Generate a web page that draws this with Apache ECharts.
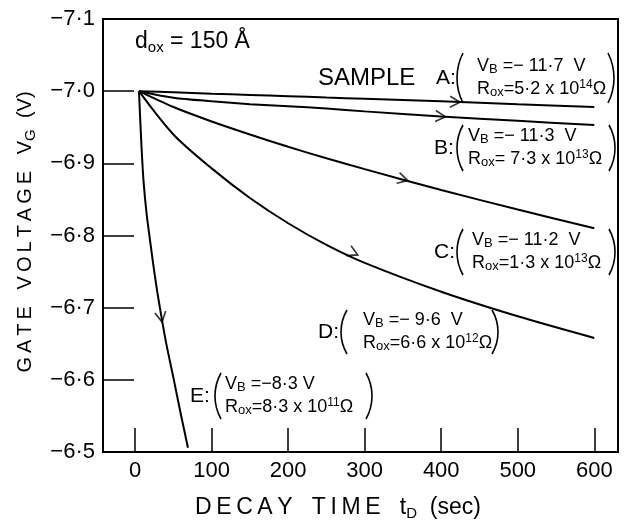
<!DOCTYPE html>
<html>
<head>
<meta charset="utf-8">
<script src="https://cdn.jsdelivr.net/npm/echarts@6/dist/echarts.min.js"></script>
<style>
html, body { margin: 0; padding: 0; background: #fff; }
#chart { width: 626px; height: 523px; }
</style>
</head>
<body>
<div id="chart"></div>
<script>
// decay time (sec) and gate voltage (V)
const timeAD = [5, 50, 100, 150, 200, 250, 300, 400, 500, 600]
const voltA = [-7.0, -6.9985, -6.9965, -6.9948, -6.993, -6.9912, -6.9895, -6.986, -6.982, -6.978]
const voltB = [-7.0, -6.991, -6.986, -6.982, -6.979, -6.976, -6.972, -6.965, -6.959, -6.953]
const voltC = [-7.0, -6.978, -6.958, -6.940, -6.923, -6.907, -6.892, -6.863, -6.836, -6.810]
const voltD = [-7.0, -6.94, -6.893, -6.852, -6.817, -6.787, -6.762, -6.722, -6.688, -6.658]
const timeE = [5, 8, 11, 15, 20, 25, 30, 40, 50, 60, 69]
const voltE = [-7.0, -6.93, -6.875, -6.83, -6.789, -6.75, -6.715, -6.654, -6.603, -6.551, -6.506]

// direction arrows on each curve
const arrowT = [418, 399, 350, 285, 34]
const arrowV = [-6.985, -6.965, -6.878, -6.776, -6.687]
const arrowRot = [-2, -4, -15, -25, -80]

const xTicks = [0, 100, 200, 300, 400, 500, 600]

const FONT = 'Liberation Sans'
const TS = '\u2009' // thin space, for the letter-spaced titles

const spaced = s => s.split('').join(TS)

const pairs = (xs, ys) => xs.map((x, i) => [x, ys[i]])

const curve = (name, data) => ({
    name: name,
    type: 'line',
    data: data,
    smooth: 0.3,
    showSymbol: false,
    lineStyle: {color: '#000', width: 2},
    z: 3
})

const rich = {
    m: {fontFamily: FONT, fontSize: 18, lineHeight: 20, color: '#000'},
    s: {fontFamily: FONT, fontSize: 13, lineHeight: 10, verticalAlign: 'bottom', color: '#000'},
    u: {fontFamily: FONT, fontSize: 12, lineHeight: 9, verticalAlign: 'top', color: '#000'}
}

const text = (x, y, str, size) => ({
    type: 'text',
    x: x,
    y: y,
    style: {
        text: str,
        fontFamily: FONT,
        fontSize: size,
        fill: '#000',
        align: 'left',
        verticalAlign: 'middle',
        rich: rich
    }
})

// one bracketed annotation: label, ( two lines ), positions in px
const note = (lab, labX, cy, lx, rx, h, tx, line1, line2) => {
    const s = 6
    const r = (h / 2) * (h / 2) / (2 * s) + s / 2
    const th = Math.asin((h / 2) / r)
    const arcStyle = {stroke: '#000', fill: 'none', lineWidth: 1.6}
    return [
        text(labX, cy, lab, 21),
        {type: 'arc', shape: {cx: lx + r, cy: cy, r: r, startAngle: Math.PI - th, endAngle: Math.PI + th, clockwise: true}, style: arcStyle},
        {type: 'arc', shape: {cx: rx - r, cy: cy, r: r, startAngle: -th, endAngle: th, clockwise: true}, style: arcStyle},
        text(tx, cy - 12, line1, 18),
        text(tx, cy + 11, line2, 18)
    ]
}

const chart = echarts.init(document.getElementById('chart'))

chart.setOption({
    animation: false,
    backgroundColor: '#fff',
    grid: {
        left: 103, right: 8, top: 19, bottom: 71,
        show: true, borderColor: '#000', borderWidth: 2
    },
    xAxis: {
        type: 'value',
        min: -42,
        max: 631,
        axisLine: {onZero: false, lineStyle: {color: '#000', width: 2}},
        axisTick: {inside: true, length: 24, customValues: xTicks, lineStyle: {color: '#000', width: 1.5}},
        axisLabel: {customValues: xTicks, color: '#000', fontFamily: FONT, fontSize: 22, margin: 8},
        splitLine: {show: false}
    },
    yAxis: {
        type: 'value',
        min: -7.1,
        max: -6.5,
        interval: 0.1,
        inverse: true,
        axisLine: {onZero: false, lineStyle: {color: '#000', width: 2}},
        axisTick: {inside: true, length: 31, lineStyle: {color: '#000', width: 1.5}},
        axisLabel: {
            color: '#000', fontFamily: FONT, fontSize: 22, margin: 8,
            formatter: v => v.toFixed(1).replace('-', '\u2212').replace('.', '\u00b7')
        },
        splitLine: {show: false}
    },
    series: [
        curve('A', pairs(timeAD, voltA)),
        curve('B', pairs(timeAD, voltB)),
        curve('C', pairs(timeAD, voltC)),
        curve('D', pairs(timeAD, voltD)),
        curve('E', pairs(timeE, voltE)),
        {
            type: 'scatter',
            symbol: 'path://M0,0L10,5L0,10',
            symbolSize: [10, 11],
            itemStyle: {color: 'transparent', borderColor: '#000', borderWidth: 1.6},
            data: arrowT.map((t, i) => ({value: [t, arrowV[i]], symbolRotate: arrowRot[i]})),
            z: 4
        }
    ],
    graphic: [
        {
            type: 'text', x: 135, y: 42,
            style: {
                text: '{d|d}{o|ox}{d| = 150 Å}', fill: '#000',
                align: 'left', verticalAlign: 'middle',
                rich: {
                    d: {fontFamily: FONT, fontSize: 23, lineHeight: 26},
                    o: {fontFamily: FONT, fontSize: 15, lineHeight: 14, verticalAlign: 'bottom'}
                }
            }
        },
        text(318, 78, 'SAMPLE', 24),
        ...note('A:', 436, 78, 457, 614, 50, 477, '{m|V}{s|B}{m| =\u2212 11\u00b77  V}', '{m|R}{s|ox}{m|=5\u00b72 x 10}{u|14}{m|\u03a9}'),
        ...note('B:', 434, 148, 457, 615, 46, 468, '{m|V}{s|B}{m| =\u2212 11\u00b73  V}', '{m|R}{s|ox}{m|= 7\u00b73 x 10}{u|13}{m|\u03a9}'),
        ...note('C:', 434, 252, 457, 615, 46, 472, '{m|V}{s|B}{m| =\u2212 11\u00b72  V}', '{m|R}{s|ox}{m|=1\u00b73 x 10}{u|13}{m|\u03a9}'),
        ...note('D:', 318, 332, 341, 498, 44, 363, '{m|V}{s|B}{m| =\u2212 9\u00b76  V}', '{m|R}{s|ox}{m|=6\u00b76 x 10}{u|12}{m|\u03a9}'),
        ...note('E:', 190, 396, 215, 372, 46, 225, '{m|V}{s|B}{m| =\u22128\u00b73 V}', '{m|R}{s|ox}{m|=8\u00b73 x 10}{u|11}{m|\u03a9}'),
        {
            type: 'text', x: 195, y: 508,
            style: {
                text: '{t|' + spaced('DECAY') + '   ' + spaced('TIME') + '   t}{s|D}{t|  (sec)}',
                fill: '#000',
                align: 'left', verticalAlign: 'middle',
                rich: {
                    t: {fontFamily: FONT, fontSize: 23, lineHeight: 26},
                    s: {fontFamily: FONT, fontSize: 15, lineHeight: 14, verticalAlign: 'bottom'}
                }
            }
        },
        {
            type: 'text', x: 25, y: 232, rotation: Math.PI / 2,
            style: {
                text: '{t|' + spaced('GATE') + '   ' + spaced('VOLTAGE') + '   V}{s|G}{t|  (V)}',
                fill: '#000',
                align: 'center', verticalAlign: 'middle',
                rich: {
                    t: {fontFamily: FONT, fontSize: 20, lineHeight: 26},
                    s: {fontFamily: FONT, fontSize: 15, lineHeight: 14, verticalAlign: 'bottom'}
                }
            }
        }
    ]
})
</script>
</body>
</html>
